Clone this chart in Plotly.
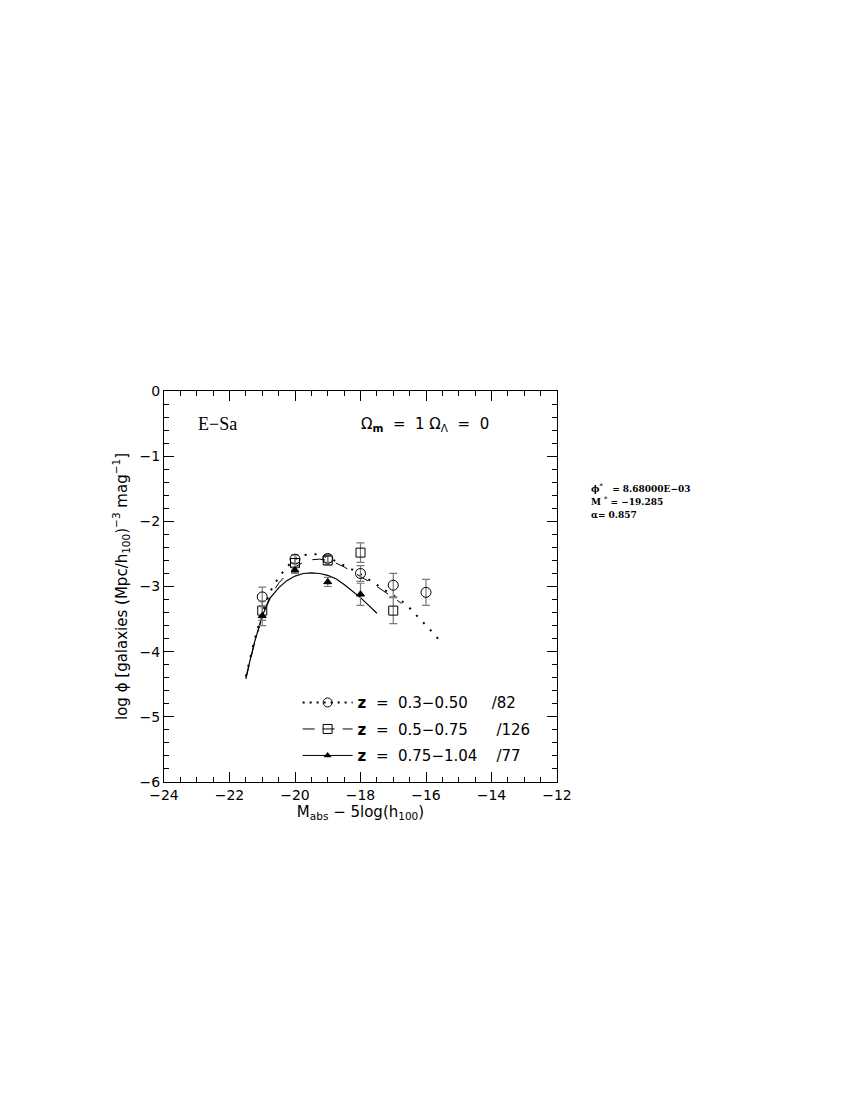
import plotly.graph_objects as go

# ---------------- data ----------------
# z = 0.3-0.50 (circles)
c_m = [-21.0, -20.0, -19.0, -18.0, -17.0, -16.0]
c_phi = [-3.16, -2.58, -2.57, -2.80, -2.98, -3.09]
c_err = [0.15, 0.06, 0.06, 0.12, 0.18, 0.20]
# z = 0.5-0.75 (squares)
s_m = [-21.0, -20.0, -19.0, -18.0, -17.0]
s_phi = [-3.37, -2.64, -2.60, -2.48, -3.37]
s_err = [0.15, 0.07, 0.07, 0.15, 0.20]
# z = 0.75-1.04 (triangles)
t_m = [-21.0, -20.0, -19.0, -18.0]
t_phi = [-3.45, -2.75, -2.93, -3.12]
t_err = [0.15, 0.05, 0.07, 0.17]

# fitted curves
dot_m = [-21.5, -21.25, -21.0, -20.75, -20.5, -20.25, -20.0, -19.75, -19.5, -19.25, -19.0,
         -18.75, -18.5, -18.25, -18.0, -17.75, -17.5, -17.25, -17.0, -16.75, -16.5,
         -16.25, -16.0, -15.75, -15.5]
dot_phi = [-4.38, -3.85, -3.40, -3.07, -2.86, -2.70, -2.58, -2.52, -2.50, -2.51, -2.55,
           -2.61, -2.67, -2.74, -2.81, -2.89, -2.97, -3.05, -3.13, -3.22, -3.33,
           -3.46, -3.59, -3.73, -3.88]
dash_m = [-21.5, -21.25, -21.0, -20.75, -20.5, -20.25, -20.0, -19.75, -19.5, -19.25, -19.0,
          -18.75, -18.5, -18.25, -18.0, -17.75, -17.5, -17.25, -17.0, -16.75]
dash_phi = [-4.42, -3.90, -3.45, -3.14, -2.95, -2.81, -2.70, -2.63, -2.59, -2.58, -2.60,
            -2.64, -2.70, -2.77, -2.85, -2.92, -3.00, -3.08, -3.17, -3.26]
sol_m = [-21.5, -21.25, -21.0, -20.75, -20.5, -20.25, -20.0, -19.75, -19.5, -19.25, -19.0,
         -18.75, -18.5, -18.25, -18.0, -17.75, -17.5]
sol_phi = [-4.40, -3.88, -3.45, -3.17, -3.02, -2.91, -2.84, -2.80, -2.79, -2.80, -2.83,
           -2.88, -2.97, -3.07, -3.17, -3.29, -3.41]

NB = "\u00a0"
legend_names = [
    "<b>z</b>" + NB * 2 + "=" + NB * 2 + "0.3\u22120.50" + NB * 5 + "/82",
    "<b>z</b>" + NB * 2 + "=" + NB * 2 + "0.5\u22120.75" + NB * 6 + "/126",
    "<b>z</b>" + NB * 2 + "=" + NB * 2 + "0.75\u22121.04" + NB * 4 + "/77",
]

ERR = "#7a7a7a"
BLACK = "black"
DOT = "2px,8px"
DASH = "13px,11px"

fig = go.Figure()

# curves
fig.add_trace(go.Scatter(x=dot_m, y=dot_phi, mode="lines", showlegend=False,
                         line=dict(color=BLACK, width=2, dash=DOT)))
fig.add_trace(go.Scatter(x=dash_m, y=dash_phi, mode="lines", showlegend=False,
                         line=dict(color=BLACK, width=1, dash=DASH)))
fig.add_trace(go.Scatter(x=sol_m, y=sol_phi, mode="lines", showlegend=False,
                         line=dict(color=BLACK, width=1.2)))

# data points
def pts(x, y, e, sym, size):
    return go.Scatter(x=x, y=y, mode="markers", showlegend=False,
                      error_y=dict(type="data", array=e, color=ERR, thickness=1.2, width=4),
                      marker=dict(symbol=sym, size=size, color=BLACK,
                                  line=dict(color=BLACK, width=1)))

fig.add_trace(pts(c_m, c_phi, c_err, "circle-open", 10))
fig.add_trace(pts(s_m, s_phi, s_err, "square-open", 9))
fig.add_trace(pts(t_m, t_phi, t_err, "triangle-up", 7))

# legend entries
fig.add_trace(go.Scatter(x=[None], y=[None], mode="lines+markers", name=legend_names[0],
                         legendgroup="a",
                         line=dict(color=BLACK, width=2, dash="2px,5px"),
                         marker=dict(symbol="circle-open", size=9, color=BLACK)))
fig.add_trace(go.Scatter(x=[None], y=[None], mode="lines+markers", name=legend_names[1],
                         legendgroup="b",
                         line=dict(color=BLACK, width=1, dash="12px,8px"),
                         marker=dict(symbol="square-open", size=9, color=BLACK)))
fig.add_trace(go.Scatter(x=[None], y=[None], mode="lines+markers", name=legend_names[2],
                         legendgroup="c",
                         line=dict(color=BLACK, width=1),
                         marker=dict(symbol="triangle-up", size=7, color=BLACK)))

axis_common = dict(showline=True, linecolor=BLACK, linewidth=1.3, mirror="allticks",
                   ticks="inside", ticklen=10, tickwidth=1, tickcolor=BLACK,
                   showgrid=False, zeroline=False,
                   tickfont=dict(family="DejaVu Sans", size=14, color=BLACK))

fig.update_xaxes(range=[-24, -12], tick0=-24, dtick=2,
                 minor=dict(dtick=0.5, ticks="inside", ticklen=5, tickcolor=BLACK, showgrid=False),
                 title=dict(text="M<sub>abs</sub> \u2212 5log(h<sub>100</sub>)",
                            font=dict(family="DejaVu Sans", size=15, color=BLACK), standoff=4),
                 **axis_common)
fig.update_yaxes(range=[-6, 0], tick0=0, dtick=1,
                 minor=dict(dtick=0.2, ticks="inside", ticklen=5, tickcolor=BLACK, showgrid=False),
                 title=dict(text="log \u03d5 [galaxies (Mpc/h<sub>100</sub>)<sup>\u22123</sup> mag<sup>\u22121</sup>]",
                            font=dict(family="DejaVu Sans", size=15, color=BLACK), standoff=8),
                 **axis_common)

fig.update_layout(
    width=850, height=1100,
    margin=dict(l=156, r=301, t=383, b=326),
    paper_bgcolor="white", plot_bgcolor="white",
    showlegend=True,
    legend=dict(x=0.34, y=0.245, xanchor="left", yanchor="top",
                bgcolor="rgba(0,0,0,0)", tracegroupgap=4, traceorder="grouped",
                font=dict(family="DejaVu Sans", size=15, color=BLACK),
                itemwidth=50),
    annotations=[
        dict(x=-23.02, y=-0.51, xref="x", yref="y", xanchor="left", yanchor="middle",
             text="E\u2212Sa", showarrow=False,
             font=dict(family="Liberation Serif", size=18, color=BLACK)),
        dict(x=-18.05, y=-0.51, xref="x", yref="y", xanchor="left", yanchor="middle",
             text="\u03a9<sub><b>m</b></sub>" + NB + " = " + NB + "1 \u03a9<sub>\u039b</sub>" + NB + " = " + NB + "0",
             showarrow=False,
             font=dict(family="DejaVu Sans", size=15, color=BLACK)),
        dict(x=1.081, y=0.752, xref="paper", yref="paper", xanchor="left", yanchor="middle",
             text="<b>\u03d5<sup>*</sup>" + NB * 2 + " = 8.68000E\u221203</b>", showarrow=False,
             font=dict(family="DejaVu Serif", size=9, color=BLACK)),
        dict(x=1.081, y=0.719, xref="paper", yref="paper", xanchor="left", yanchor="middle",
             text="<b>M <sup>*</sup> = \u221219.285</b>", showarrow=False,
             font=dict(family="DejaVu Serif", size=9, color=BLACK)),
        dict(x=1.081, y=0.683, xref="paper", yref="paper", xanchor="left", yanchor="middle",
             text="<b>\u03b1= 0.857</b>", showarrow=False,
             font=dict(family="DejaVu Serif", size=9, color=BLACK)),
    ],
)

fig.write_html("out.html")
